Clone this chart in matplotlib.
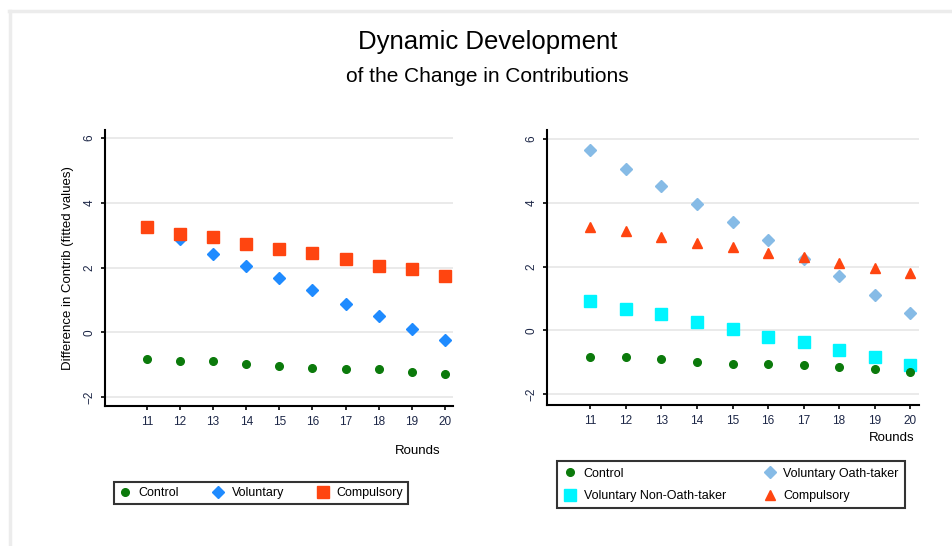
import matplotlib.pyplot as plt
from matplotlib.lines import Line2D

plt.rcParams["font.family"] = ["Liberation Sans", "DejaVu Sans"]

rounds = list(range(11, 21))

# left panel
left_control = [-0.84, -0.90, -0.90, -0.97, -1.03, -1.09, -1.15, -1.15, -1.22, -1.28]
left_voluntary = [3.25, 2.87, 2.41, 2.05, 1.68, 1.30, 0.87, 0.50, 0.11, -0.25]
left_compulsory = [3.24, 3.05, 2.93, 2.74, 2.56, 2.44, 2.25, 2.06, 1.94, 1.75]

# right panel
right_control = [-0.85, -0.85, -0.91, -0.98, -1.04, -1.04, -1.10, -1.16, -1.22, -1.29]
right_oath = [5.64, 5.07, 4.51, 3.95, 3.39, 2.83, 2.25, 1.69, 1.12, 0.55]
right_non_oath = [0.92, 0.67, 0.50, 0.25, 0.05, -0.21, -0.37, -0.62, -0.82, -1.07]
right_compulsory = [3.24, 3.10, 2.93, 2.75, 2.61, 2.41, 2.29, 2.10, 1.94, 1.79]

yticks = [-2, 0, 2, 4, 6]

GREEN = "#0b7a0b"
BLUE = "#1f8bff"
RED = "#ff4510"
LIGHTBLUE = "#86bbe6"
CYAN = "#00f5ff"


def style_axes(ax, ylim, xlim):
    ax.set_xlim(*xlim)
    ax.set_ylim(*ylim)
    ax.set_xticks(rounds)
    ax.set_yticks(yticks)
    ax.grid(axis="y", color="#e6e6e6", lw=1.2)
    ax.set_axisbelow(True)
    for s in ("top", "right"):
        ax.spines[s].set_visible(False)
    for s in ("left", "bottom"):
        ax.spines[s].set_linewidth(1.5)
    ax.tick_params(axis="both", direction="out", length=3, width=1.2,
                   labelsize=8.5, colors="black", labelcolor="#1d2747", pad=4)
    for lab in ax.get_yticklabels():
        lab.set_rotation(90)
        lab.set_va("center")


fig = plt.figure(figsize=(9.52, 5.46), dpi=100)

# light frame of the graph region
fig.add_artist(Line2D([0.009, 1.0], [0.979, 0.979], color="#ececec", lw=2.5))
fig.add_artist(Line2D([0.010, 0.010], [0.0, 0.979], color="#ececec", lw=2.5))

fig.text(0.512, 0.923, "Dynamic Development", ha="center", va="center", fontsize=18.5)
fig.text(0.512, 0.859, "of the Change in Contributions", ha="center", va="center", fontsize=15)

ax1 = fig.add_axes([0.1103, 0.2564, 0.3655, 0.5055])
ax1.plot(rounds, left_control, ls="none", marker="o", ms=5.5, color=GREEN, label="Control")
ax1.plot(rounds, left_voluntary, ls="none", marker="D", ms=6, color=BLUE, label="Voluntary")
ax1.plot(rounds, left_compulsory, ls="none", marker="s", ms=8, color=RED, label="Compulsory")
style_axes(ax1, (-2.28, 6.25), (9.74, 20.24))
ax1.set_ylabel("Difference in Contrib (fitted values)", fontsize=9.5, labelpad=7)
ax1.text(0.963, -0.163, "Rounds", transform=ax1.transAxes, ha="right", va="center", fontsize=9.5)

ax2 = fig.add_axes([0.5746, 0.2582, 0.3908, 0.5037])
h_c = ax2.plot(rounds, right_control, ls="none", marker="o", ms=5.5, color=GREEN, label="Control", zorder=3)[0]
h_o = ax2.plot(rounds, right_oath, ls="none", marker="D", ms=6, color=LIGHTBLUE, label="Voluntary Oath-taker")[0]
h_n = ax2.plot(rounds, right_non_oath, ls="none", marker="s", ms=8, color=CYAN, label="Voluntary Non-Oath-taker")[0]
h_r = ax2.plot(rounds, right_compulsory, ls="none", marker="^", ms=6.5, color=RED, label="Compulsory")[0]
style_axes(ax2, (-2.34, 6.28), (9.78, 20.25))
ax2.text(0.989, -0.12, "Rounds", transform=ax2.transAxes, ha="right", va="center", fontsize=9.5)

leg_kw = dict(fontsize=9, frameon=True, fancybox=False, edgecolor="black",
              handletextpad=0.6, handlelength=1.0)
leg1 = fig.legend(*ax1.get_legend_handles_labels(), loc="center",
                  bbox_to_anchor=(0.274, 0.097), ncol=3, columnspacing=2.6,
                  borderpad=0.4, **leg_kw)
leg1.get_frame().set_linewidth(1.5)

leg2 = fig.legend([h_c, h_n, h_o, h_r],
                  ["Control", "Voluntary Non-Oath-taker", "Voluntary Oath-taker", "Compulsory"],
                  loc="center", bbox_to_anchor=(0.768, 0.112), ncol=2,
                  columnspacing=3.0, labelspacing=0.85, borderpad=0.5, **leg_kw)
leg2.get_frame().set_linewidth(1.5)

fig.savefig("out.png", dpi=100)
